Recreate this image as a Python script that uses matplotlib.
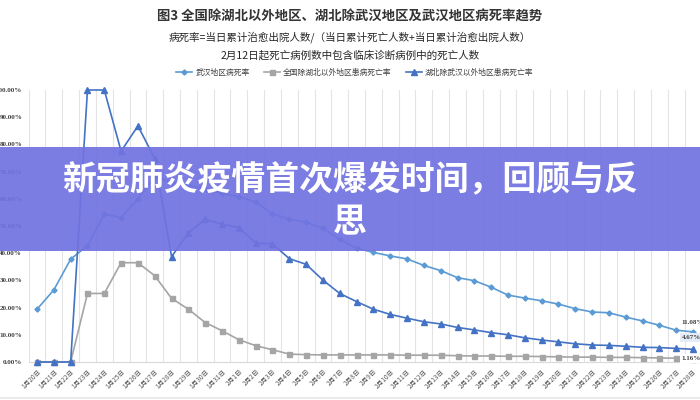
import numpy as np
import matplotlib.pyplot as plt
from matplotlib.patches import Rectangle
from matplotlib.lines import Line2D

plt.rcParams['font.family'] = ['Noto Sans CJK SC', 'DejaVu Sans']

# 日期标签
dates = [f"1月{d}日" for d in range(20, 32)] + [f"2月{d}日" for d in range(1, 29)]

# 武汉地区病死率 (%)
wuhan = [19.4, 26.5, 37.8, 42.8, 54.3, 53.1, 60.0, 68.0, 66.0, 65.0,
         63.5, 62.0, 60.8, 58.8, 54.5, 52.5, 51.4, 49.1, 45.1, 41.8,
         40.3, 39.0, 37.9, 35.5, 33.6, 31.0, 29.9, 27.5, 24.6, 23.5,
         22.5, 21.3, 19.6, 18.4, 18.1, 16.5, 15.1, 13.5, 11.7, 11.08]

# 全国除湖北以外地区患病死亡率 (%)
other = [0, 0, 0, 25.2, 25.2, 36.5, 36.5, 31.7, 23.4, 19.4,
         14.5, 11.5, 8.2, 6.0, 4.5, 2.9, 2.7, 2.6, 2.6, 2.6,
         2.6, 2.6, 2.5, 2.5, 2.5, 2.3, 2.2, 2.2, 2.1, 2.1,
         2.0, 1.9, 1.8, 1.8, 1.7, 1.7, 1.6, 1.5, 1.4, 1.16]

# 湖北除武汉以外地区患病死亡率 (%)
hubei = [0, 0, 0, 100, 100, 77.5, 86.8, 74.8, 38.7, 47.5,
         52.5, 50.7, 49.4, 43.8, 43.4, 38.0, 35.9, 30.1, 25.2, 22.2,
         19.4, 17.5, 16.1, 14.8, 14.0, 12.7, 11.8, 10.8, 10.0, 8.9,
         8.1, 7.4, 6.7, 6.25, 6.1, 5.8, 5.4, 5.3, 5.0, 4.67]

names = ["武汉地区病死率", "全国除湖北以外地区患病死亡率", "湖北除武汉以外地区患病死亡率"]
end_labels = ["11.08%", "4.67%", "1.16%"]

c_wh, c_ot, c_hb = '#5B9BD5', '#A5A5A5', '#4472C4'

fig = plt.figure(figsize=(7, 4), dpi=100)
ax = fig.add_axes([28.6 / 700, 38 / 400, 672.8 / 700, 272 / 400])

x = np.arange(len(dates))
ax.plot(x, wuhan, color=c_wh, lw=1.2, marker='D', ms=2.6, label=names[0], clip_on=False, zorder=3)
ax.plot(x, other, color=c_ot, lw=1.2, marker='s', ms=3.6, label=names[1], clip_on=False, zorder=3)
ax.plot(x, hubei, color=c_hb, lw=1.2, marker='^', ms=3.8, label=names[2], clip_on=False, zorder=4)

ax.set_xlim(-0.5, len(dates) - 0.5)
ax.set_ylim(0, 100)
ax.set_xticks(x)
ax.set_xticklabels(dates, rotation=45, ha='right', rotation_mode='anchor',
                   fontsize=4.8, color='#595959')
ax.set_xticks(np.arange(-0.5, len(dates), 1), minor=True)
ax.grid(axis='x', which='minor', color='#E3E3E3', lw=0.8)
ax.tick_params(axis='both', which='both', length=0)
ax.tick_params(axis='x', pad=4)

yt = np.arange(0, 101, 10)
ax.set_yticks(yt)
ax.set_yticklabels([f"{v:.2f}%" for v in yt], fontsize=5, fontweight='bold',
                   family='Liberation Serif', color='#404040')
ax.tick_params(axis='y', pad=4.7)
for s in ['top', 'right', 'left']:
    ax.spines[s].set_visible(False)
ax.spines['bottom'].set_color('#D9D9D9')

# 末端数据标签
ax.annotate(end_labels[0], (x[-1], wuhan[-1]), xytext=(-8, 7), textcoords='offset points',
            fontsize=5, fontweight='bold', family='Liberation Serif', color='#404040', va='center')
ax.annotate(end_labels[1], (x[-1], hubei[-1]), xytext=(-8, 8.5), textcoords='offset points',
            fontsize=5, fontweight='bold', family='Liberation Serif', color='#404040', va='center',
            bbox=dict(boxstyle='square,pad=0.3', fc='#E4ECF7', ec='none'))
ax.annotate(end_labels[2], (x[-1], other[-1]), xytext=(-8, 0), textcoords='offset points',
            fontsize=5, fontweight='bold', family='Liberation Serif', color='#404040', va='center',
            bbox=dict(boxstyle='square,pad=0.3', fc='white', ec='none'))

# 标题
fig.text(0.5, 1 - 17 / 400, "图3 全国除湖北以外地区、湖北除武汉地区及武汉地区病死率趋势",
         ha='center', va='center', fontsize=9.6, fontweight='bold', color='#333333')
fig.text(0.5, 1 - 37 / 400, "病死率=当日累计治愈出院人数/（当日累计死亡人数+当日累计治愈出院人数）",
         ha='center', va='center', fontsize=7.6, color='#262626')
fig.text(0.5, 1 - 55 / 400, "2月12日起死亡病例数中包含临床诊断病例中的死亡人数",
         ha='center', va='center', fontsize=7.6, color='#262626')

fig.legend(loc='center', bbox_to_anchor=(0.507, 1 - 73 / 400), ncol=3, frameon=False,
           fontsize=5.6, handlelength=2.0, handletextpad=0.4, columnspacing=1.9,
           labelcolor='#404040')

# 底部边线
fig.add_artist(Line2D([0, 1], [2 / 400, 2 / 400], color='#E6E6E6', lw=1.2,
                      transform=fig.transFigure))

# 横幅
fig.add_artist(Rectangle((0, 149 / 400), 1, 104 / 400, transform=fig.transFigure,
                         fc='#7172E0', ec='none', alpha=0.92, zorder=5))
fig.text(0.5, 1 - 180 / 400, "新冠肺炎疫情首次爆发时间，回顾与反", ha='center', va='center',
         fontsize=24.4, fontweight='black', color='white', zorder=6)
fig.text(0.5, 1 - 222 / 400, "思", ha='center', va='center',
         fontsize=24.4, fontweight='black', color='white', zorder=6)

fig.savefig('out.png', dpi=100)
